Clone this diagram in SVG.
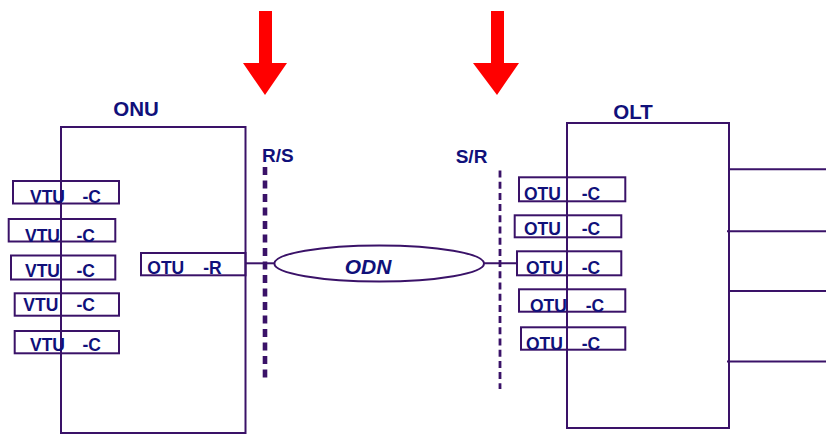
<svg xmlns="http://www.w3.org/2000/svg" width="826" height="435" viewBox="0 0 826 435">
<style>
.ln{fill:none;stroke:#3a1268;stroke-width:2}
.bx{fill:none;stroke:#3a1268;stroke-width:2}
.t{font-family:"Liberation Sans",Arial,sans-serif;font-weight:bold;fill:#10107a}
.s{font-size:17.5px}
.h{font-size:20.5px}
.m{font-size:19px}
.arr{fill:#ff0000}
</style>
<rect width="826" height="435" fill="#ffffff"/>
<g id="arrows">
<polygon class="arr" points="259,11 272,11 272,63 287,63 265,95 243,63 259,63"/>
<polygon class="arr" points="491,11 504,11 504,63 519,63 497,95 473,63 491,63"/>
</g>
<g id="onu">
<rect class="bx" x="61" y="127" width="184.5" height="306"/>
<text class="t h" x="136" y="116" text-anchor="middle">ONU</text>
</g>
<g id="vtu1"><rect class="bx" x="13" y="181" width="106" height="22.5"/><text class="t s" x="30" y="202.5">VTU</text><text class="t s" x="82.5" y="202.5">-C</text></g>
<g id="vtu2"><rect class="bx" x="8.7" y="219" width="106.6" height="22.5"/><text class="t s" x="25" y="241.5">VTU</text><text class="t s" x="76.5" y="241.5">-C</text></g>
<g id="vtu3"><rect class="bx" x="11" y="255.5" width="104.3" height="24"/><text class="t s" x="25" y="277">VTU</text><text class="t s" x="76.5" y="277">-C</text></g>
<g id="vtu4"><rect class="bx" x="14.7" y="293.3" width="104.3" height="22.4"/><text class="t s" x="23.3" y="311">VTU</text><text class="t s" x="76.5" y="311">-C</text></g>
<g id="vtu5"><rect class="bx" x="14.7" y="331" width="104.3" height="22.3"/><text class="t s" x="30" y="350.5">VTU</text><text class="t s" x="82.5" y="350.5">-C</text></g>
<g id="otur"><rect class="bx" x="141" y="253" width="104.5" height="22.3"/><text class="t s" x="147.3" y="274">OTU</text><text class="t s" x="203.3" y="274">-R</text></g>
<g id="rs">
<line x1="265" y1="167" x2="265" y2="380" stroke="#3a1268" stroke-width="4.6" stroke-dasharray="8,5.5"/>
<text class="t m" x="262" y="162">R/S</text>
</g>
<g id="sr">
<line x1="500" y1="170.5" x2="500" y2="389" stroke="#3a1268" stroke-width="2.8" stroke-dasharray="7,4.2"/>
<text class="t m" x="455.7" y="162.5">S/R</text>
</g>
<g id="odn">
<ellipse class="ln" cx="379.2" cy="263.5" rx="104.8" ry="18"/>
<text class="t" x="368" y="274.3" font-size="21" font-style="italic" text-anchor="middle">ODN</text>
</g>
<g id="olt">
<rect class="bx" x="567" y="123" width="162" height="305"/>
<text class="t h" x="633" y="119.3" text-anchor="middle">OLT</text>
</g>
<g id="otuc1"><rect class="bx" x="519" y="177.3" width="106.3" height="24"/><text class="t s" x="524" y="200.3">OTU</text><text class="t s" x="581.7" y="200.3">-C</text></g>
<g id="otuc2"><rect class="bx" x="514.7" y="215.3" width="106.6" height="22"/><text class="t s" x="524" y="234.7">OTU</text><text class="t s" x="581.7" y="234.7">-C</text></g>
<g id="otuc3"><rect class="bx" x="517" y="251.3" width="104.3" height="24"/><text class="t s" x="526" y="274.3">OTU</text><text class="t s" x="581.7" y="274.3">-C</text></g>
<g id="otuc4"><rect class="bx" x="519" y="289.3" width="106.3" height="22.4"/><text class="t s" x="530" y="312.3">OTU</text><text class="t s" x="585.7" y="312.3">-C</text></g>
<g id="otuc5"><rect class="bx" x="521" y="327.3" width="104.3" height="22.4"/><text class="t s" x="526" y="350.3">OTU</text><text class="t s" x="581.7" y="350.3">-C</text></g>
<g id="connectors">
<line class="ln" x1="245.5" y1="263.3" x2="274.4" y2="263.3"/>
<line class="ln" x1="484" y1="263.3" x2="517" y2="263.3"/>
<line class="ln" x1="729" y1="169.3" x2="826" y2="169.3"/>
<line class="ln" x1="727" y1="231.3" x2="826" y2="231.3"/>
<line class="ln" x1="729" y1="291" x2="826" y2="291"/>
<line class="ln" x1="727" y1="361.5" x2="826" y2="361.5"/>
</g>
</svg>
